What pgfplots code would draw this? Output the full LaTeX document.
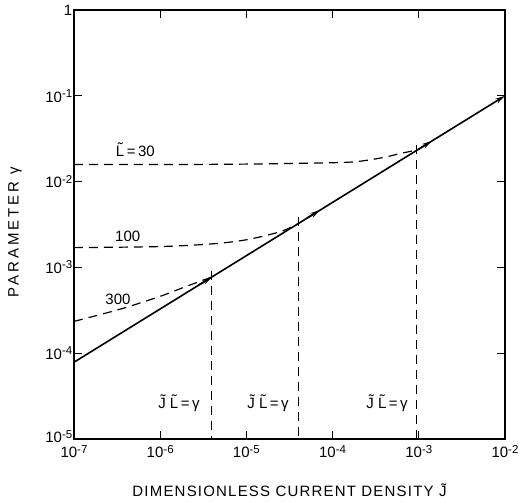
\documentclass[border=0pt]{standalone}
\usepackage{fontspec}
\setmainfont{Liberation Sans}
\usepackage{pgfplots}
\pgfplotsset{compat=1.18}
\usetikzlibrary{arrows.meta}
\newcommand{\tl}[1]{10\raisebox{0.6ex}{\fontsize{11.5}{11.5}\selectfont #1}}
\begin{document}
\begin{tikzpicture}
\begin{axis}[
  at={(0,0)}, anchor=south west,
  scale only axis, width=431pt, height=429pt,
  xmode=log, ymode=log,
  xmin=1e-7, xmax=1e-2, ymin=1e-5, ymax=1,
  xtick={1e-7,1e-6,1e-5,1e-4,1e-3,1e-2},
  xticklabels={\tl{-7},\tl{-6},\tl{-5},\tl{-4},\tl{-3},\tl{-2}},
  ytick={1e-5,1e-4,1e-3,1e-2,1e-1,1},
  yticklabels={\raisebox{5pt}{\tl{-5}},\tl{-4},\tl{-3},\tl{-2},\tl{-1},1},
  minor tick style={draw=none},
  tick align=inside, major tick length=8pt,
  tick style={black, line width=0.8pt},
  axis line style={line width=1.2pt},
  ticklabel style={font=\fontsize{15}{15}\selectfont},
  yticklabel style={inner sep=1.5pt},
  xticklabel style={inner sep=2pt, yshift=-4pt},
  xlabel={\addfontfeature{LetterSpace=8}DIMENSIONLESS CURRENT DENSITY \~{J}},
  ylabel={\addfontfeature{LetterSpace=20}PARAMETER γ},
  label style={font=\fontsize{15}{15}\selectfont},
  xlabel style={at={(axis description cs:0.5,-0.119)}, anchor=center},
  ylabel style={at={(axis description cs:-0.137,0.4825)}, anchor=center, rotate=0},
  clip=false,
]
% main solid line
\addplot[black, line width=1.6pt, -{Stealth[length=10pt,width=5pt]}] coordinates {(1e-7,7.85e-5) (1e-2,0.1)};
% arrow heads along the line
\addplot[black, line width=1.6pt, -{Stealth[length=10pt,width=5pt]}] coordinates {(2.82e-6,6.24e-4) (4.0e-6,7.74e-4)};
\addplot[black, line width=1.6pt, -{Stealth[length=10pt,width=5pt]}] coordinates {(5.0e-5,3.73e-3) (7.15e-5,4.65e-3)};
\addplot[black, line width=1.6pt, -{Stealth[length=10pt,width=5pt]}] coordinates {(1.0e-3,2.39e-2) (1.42e-3,2.98e-2)};
% dashed curves
\addplot[black, line width=1.2pt, dash pattern=on 9pt off 6pt, smooth] coordinates {
  (1e-7,0.0158) (1e-6,0.0158) (1e-5,0.0160) (1e-4,0.0166) (2e-4,0.0172) (4e-4,0.0192) (6e-4,0.0212) (9.5e-4,0.0233)};
\addplot[black, line width=1.2pt, dash pattern=on 9pt off 6pt, smooth] coordinates {
  (1e-7,0.0017) (1e-6,0.00175) (4e-6,0.00188) (1e-5,0.0021) (2.45e-5,0.0026) (4e-5,0.00323)};
\addplot[black, line width=1.2pt, dash pattern=on 9pt off 6pt, smooth] coordinates {
  (1e-7,0.000235) (3.4e-7,0.000325) (1e-6,0.00046) (2e-6,0.0006) (3.8e-6,0.00076)};
% vertical dashed lines
\addplot[black, line width=1.2pt, dash pattern=on 9pt off 6pt] coordinates {(3.9e-6,0.00092) (3.9e-6,1e-5)};
\addplot[black, line width=1.2pt, dash pattern=on 9pt off 6pt] coordinates {(4e-5,0.0039) (4e-5,1e-5)};
\addplot[black, line width=1.2pt, dash pattern=on 9pt off 6pt] coordinates {(9.5e-4,0.027) (9.5e-4,1e-5)};
% labels
\node[font=\fontsize{15}{15}\selectfont] at (axis cs:5.15e-7,0.0236) {\~{L}\,=\,30};
\node[font=\fontsize{15}{15}\selectfont] at (axis cs:4.2e-7,0.00229) {100};
\node[font=\fontsize{15}{15}\selectfont] at (axis cs:3.24e-7,0.000425) {300};
\node[font=\fontsize{15}{15}\selectfont] at (axis cs:1.65e-6,2.6e-5) {\~{J} \~{L}\,=\,γ};
\node[font=\fontsize{15}{15}\selectfont] at (axis cs:1.78e-5,2.6e-5) {\~{J} \~{L}\,=\,γ};
\node[font=\fontsize{15}{15}\selectfont] at (axis cs:4.28e-4,2.6e-5) {\~{J} \~{L}\,=\,γ};
\end{axis}
\useasboundingbox (-74pt,-64pt) rectangle (451pt,439pt);
\end{tikzpicture}
\end{document}
